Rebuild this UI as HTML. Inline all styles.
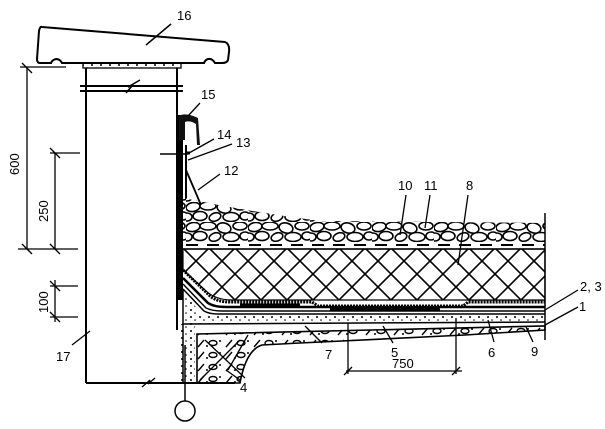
<!DOCTYPE html>
<html><head><style>
html,body{margin:0;padding:0;background:#fff;}
svg{display:block;}
text{font-family:"Liberation Sans",sans-serif;font-size:13px;fill:#000;}
</style></head><body>
<svg width="605" height="429" viewBox="0 0 605 429" xmlns="http://www.w3.org/2000/svg">
<defs>
<pattern id="hatch" width="26" height="26" patternUnits="userSpaceOnUse" x="183" y="248">
<path d="M0,0L26,26M26,0L0,26" stroke="#000" stroke-width="1.6"/>
</pattern>
<pattern id="gravel" width="62" height="20" patternUnits="userSpaceOnUse" x="0" y="202">
<g fill="#fff" stroke="#000" stroke-width="1.6">
<ellipse cx="7" cy="5" rx="7" ry="4.5" transform="rotate(-10 7 5)"/>
<ellipse cx="22" cy="4" rx="8" ry="4"/>
<ellipse cx="38" cy="6" rx="7" ry="5" transform="rotate(15 38 6)"/>
<ellipse cx="54" cy="4" rx="7" ry="4"/>
<ellipse cx="14" cy="14" rx="7" ry="4.5"/>
<ellipse cx="29" cy="15" rx="6" ry="4" transform="rotate(-20 29 15)"/>
<ellipse cx="45" cy="15" rx="8" ry="4.5"/>
<ellipse cx="59" cy="14" rx="5" ry="4"/>
<ellipse cx="1" cy="15" rx="5" ry="4"/>
</g>
</pattern>
<pattern id="dots" width="9" height="7" patternUnits="userSpaceOnUse">
<circle cx="2" cy="2" r="1" fill="#000"/><circle cx="6" cy="5" r="0.8" fill="#000"/>
</pattern>
<pattern id="conc" width="28" height="12" patternUnits="userSpaceOnUse" y="325">
<path d="M2,10L8,3" stroke="#000" stroke-width="1.4"/>
<ellipse cx="17" cy="6" rx="4" ry="2.5" fill="none" stroke="#000" stroke-width="1.4"/>
<circle cx="24" cy="4" r="1"/><circle cx="11" cy="9" r="1"/>
</pattern>
<clipPath id="gc"><path d="M183,198 Q250,212 320,221 L545,223 L545,242 L183,242Z"/></clipPath>
</defs>

<!-- coping 16 -->
<path d="M42,27 L225,42 Q230,44 229,52 L228,60 Q227,63 222,63 L215,63 Q212,58 208,59 Q205,60 204,63 L62,63 Q60,59 56,59 Q52,60 51,63 L40,63 Q37,63 37,59 L39,31 Q40,26 42,27Z" fill="#fff" stroke="#000" stroke-width="2"/>
<line x1="146" y1="45" x2="171" y2="24" stroke="#000" stroke-width="1.5"/>
<text x="177" y="20">16</text>
<rect x="83" y="63" width="98" height="5" fill="url(#dots)" stroke="#000" stroke-width="1.3"/>

<!-- wall -->
<line x1="86" y1="68" x2="86" y2="383" stroke="#000" stroke-width="2"/>
<line x1="177" y1="68" x2="177" y2="330" stroke="#000" stroke-width="2"/>
<line x1="80" y1="86" x2="183" y2="86" stroke="#000" stroke-width="2"/>
<line x1="80" y1="91" x2="183" y2="91" stroke="#000" stroke-width="2"/>
<path d="M126,93 L132,86 L128,87 L140,80" stroke="#000" fill="none" stroke-width="1.5"/>
<line x1="86" y1="383" x2="235" y2="383" stroke="#000" stroke-width="2"/>
<path d="M142,387 L150,380 L148,384 L155,378" stroke="#000" fill="none" stroke-width="1.3"/>
<line x1="72" y1="345" x2="90" y2="331" stroke="#000" stroke-width="1.3"/>
<text x="56" y="361">17</text>

<!-- dimensions -->
<g stroke="#000" stroke-width="1.3" fill="none">
<line x1="27" y1="68" x2="27" y2="249"/>
<line x1="20" y1="67" x2="66" y2="67"/>
<line x1="22" y1="63" x2="32" y2="73"/>
<line x1="55" y1="153" x2="55" y2="249"/>
<line x1="50" y1="153" x2="80" y2="153"/>
<line x1="50" y1="148" x2="60" y2="158"/>
<line x1="18" y1="249" x2="78" y2="249"/>
<line x1="22" y1="244" x2="32" y2="254"/><line x1="50" y1="244" x2="60" y2="254"/>
<line x1="55" y1="280" x2="55" y2="322"/>
<line x1="50" y1="286" x2="78" y2="286"/><line x1="50" y1="281" x2="60" y2="291"/>
<line x1="50" y1="317" x2="78" y2="317"/><line x1="50" y1="312" x2="60" y2="322"/>
<line x1="160" y1="154" x2="188" y2="154" stroke-width="1.6"/>
</g>
<text transform="translate(19,175) rotate(-90)">600</text>
<text transform="translate(48,222) rotate(-90)">250</text>
<text transform="translate(48,313) rotate(-90)">100</text>

<!-- parapet flashing -->
<rect x="177" y="115" width="6" height="185" fill="#000"/>
<path d="M179,116 Q185,112 198,118 L200,145 L197,145 L196,124 Q190,120 185,122 L185,140 L179,140Z" fill="#111"/>
<line x1="186" y1="145" x2="186" y2="200" stroke="#000" stroke-width="2"/>
<path d="M186,170 L201,205" stroke="#000" stroke-width="1.8" fill="none"/>
<line x1="186" y1="153" x2="190" y2="153" stroke="#000" stroke-width="3"/>
<line x1="188" y1="116" x2="200" y2="103" stroke="#000" stroke-width="1.3"/>
<text x="201" y="99">15</text>
<line x1="189" y1="153" x2="214" y2="139" stroke="#000" stroke-width="1.3"/>
<text x="217" y="139">14</text>
<line x1="188" y1="160" x2="232" y2="144" stroke="#000" stroke-width="1.3"/>
<text x="236" y="147">13</text>
<line x1="198" y1="190" x2="220" y2="174" stroke="#000" stroke-width="1.3"/>
<text x="224" y="175">12</text>

<!-- gravel -->
<rect x="183" y="195" width="362" height="50" fill="url(#gravel)" clip-path="url(#gc)"/>
<line x1="186" y1="245" x2="545" y2="245" stroke="#000" stroke-width="2" stroke-dasharray="12,9"/>
<line x1="183" y1="249" x2="545" y2="249" stroke="#000" stroke-width="1.5"/>
<line x1="545" y1="213" x2="545" y2="340" stroke="#000" stroke-width="1.5"/>

<!-- insulation -->
<path d="M183,249 L545,249 L545,300 L312,300 L232,300 Q215,300 205,290 L183,270Z" fill="url(#hatch)" stroke="#000" stroke-width="1.2"/>
<g stroke="#000" fill="none">
<path d="M183,270 L210,296 Q217,302 230,302 L312,302 L318,306 L463,306 L468,302 L545,302" stroke-width="3" stroke-dasharray="2,1"/>
<path d="M183,278 L208,303 Q214,307 226,307 L545,307" stroke-width="2.5"/>
<path d="M183,284 L206,308 Q212,311 222,311 L545,311" stroke-width="1.5"/>
<path d="M183,289 L204,311 Q209,314 218,314 L545,314" stroke-width="1.5"/>
<line x1="240" y1="305" x2="300" y2="305" stroke-width="3"/>
<line x1="330" y1="309" x2="440" y2="309" stroke-width="3"/>
</g>
<path d="M183,292 L203,315 L545,314 L545,322 L183,324Z" fill="url(#dots)"/>
<line x1="183" y1="324" x2="545" y2="322" stroke="#000" stroke-width="1.5"/>
<rect x="178" y="324" width="17" height="59" fill="url(#dots)"/>
<line x1="183" y1="290" x2="183" y2="383" stroke="#000" stroke-width="1.5"/>
<path d="M197,334 L545,326 L545,330 L465,335 L300,343 L262,345 Q246,350 240,383 L197,383Z" fill="url(#conc)" stroke="#000" stroke-width="1.6"/>
<line x1="205" y1="340" x2="245" y2="378" stroke="#000" stroke-width="1.3"/>
<line x1="200" y1="380" x2="240" y2="340" stroke="#000" stroke-width="1.3"/>
<line x1="185" y1="345" x2="185" y2="401" stroke="#000" stroke-width="1.5"/>
<circle cx="185" cy="411" r="10" fill="#fff" stroke="#000" stroke-width="1.5"/>

<g stroke="#000" stroke-width="1.3">
<line x1="348" y1="323" x2="348" y2="374"/>
<line x1="456" y1="318" x2="456" y2="374"/>
<line x1="346" y1="371" x2="462" y2="371"/>
<line x1="344" y1="375" x2="352" y2="367"/><line x1="452" y1="375" x2="460" y2="367"/>
</g>
<text x="392" y="368">750</text>

<g stroke="#000" stroke-width="1.3">
<line x1="400" y1="235" x2="406" y2="195"/>
<line x1="425" y1="228" x2="430" y2="195"/>
<line x1="458" y1="265" x2="468" y2="195"/>
<line x1="545" y1="310" x2="578" y2="290"/>
<line x1="545" y1="325" x2="578" y2="307"/>
<line x1="526" y1="327" x2="533" y2="342"/>
<line x1="488" y1="320" x2="494" y2="342"/>
<line x1="383" y1="326" x2="393" y2="343"/>
<line x1="305" y1="326" x2="322" y2="343"/>
<line x1="248" y1="335" x2="228" y2="370"/>
<line x1="226" y1="370" x2="240" y2="380"/>
</g>
<text x="398" y="190">10</text>
<text x="424" y="190">11</text>
<text x="466" y="190">8</text>
<text x="580" y="291">2, 3</text>
<text x="579" y="311">1</text>
<text x="531" y="356">9</text>
<text x="488" y="357">6</text>
<text x="391" y="357">5</text>
<text x="325" y="359">7</text>
<text x="240" y="392">4</text>
</svg>
</body></html>
